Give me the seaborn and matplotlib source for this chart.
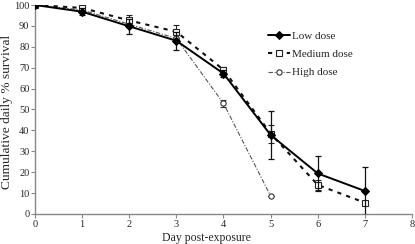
import matplotlib
matplotlib.use("Agg")
import matplotlib.pyplot as plt
import seaborn as sns
import pandas as pd
import numpy as np

days = [0, 1, 2, 3, 4, 5, 6, 7]
low = [100, 96.8, 89.8, 82.9, 67.2, 37.8, 19.4, 11.0]
low_err = [0, 1.6, 3.5, 4.4, 1.8, 11.5, 8.3, 11.5]
medium = [100, 98.6, 92.6, 87.2, 69.0, 38.5, 13.9, 5.4]
medium_err = [0, 1.2, 2.5, 3.3, 1.2, 4.3, 2.2, 0]
high_days = [0, 1, 2, 3, 4, 5]
high = [100, 97.6, 90.8, 84.0, 52.9, 8.6]
high_err = [0, 0, 0, 0, 1.6, 0]
series_names = ["Low dose", "Medium dose", "High dose"]

sns.set_theme(style="white")
plt.rcParams["font.family"] = ["Liberation Serif", "DejaVu Serif"]

fig = plt.figure(figsize=(4.15, 2.44), dpi=100)
ax = fig.add_axes([0.0843, 0.123, 0.9085, 0.8565])

df_high = pd.DataFrame({"day": high_days, "val": high})
df_med = pd.DataFrame({"day": days, "val": medium})
df_low = pd.DataFrame({"day": days, "val": low})

# High dose
ax.errorbar(high_days, high, yerr=high_err, fmt="none", ecolor="#333333",
            elinewidth=0.8, capsize=2, capthick=0.8, zorder=2)
sns.lineplot(data=df_high, x="day", y="val", ax=ax, color="#555555",
             linewidth=0.8, marker="o", markersize=3.8, markerfacecolor="white",
             markeredgecolor="#333333", markeredgewidth=0.8, label=series_names[2],
             zorder=3)
ax.lines[-1].set_dashes([4, 1.5, 1, 1.5])

# Medium dose
ax.errorbar(days, medium, yerr=medium_err, fmt="none", ecolor="#222222",
            elinewidth=0.8, capsize=2, capthick=0.8, zorder=4)
sns.lineplot(data=df_med, x="day", y="val", ax=ax, color="#111111",
             linewidth=1.5, marker="s", markersize=4.8, markerfacecolor="white",
             markeredgecolor="#222222", markeredgewidth=0.8, label=series_names[1],
             zorder=5)
ax.lines[-1].set_dashes([2, 2.5])

# Low dose
ax.errorbar(days, low, yerr=low_err, fmt="none", ecolor="#111111",
            elinewidth=0.9, capsize=2, capthick=0.9, zorder=6)
sns.lineplot(data=df_low, x="day", y="val", ax=ax, color="black",
             linewidth=1.4, marker="D", markersize=4.3, markerfacecolor="black",
             markeredgecolor="black", label=series_names[0], zorder=7)

ax.set_xlim(0, 8)
ax.set_ylim(0, 100)
ax.set_xticks(range(0, 9))
ax.set_yticks(range(0, 101, 10))
ax.set_xlabel("Day post-exposure", fontsize=8.5)
ax.set_ylabel("Cumulative daily % survival", fontsize=9.6)
ax.xaxis.set_label_coords(0.455, -0.085)
ax.yaxis.set_label_coords(-0.058, 0.49)
ax.tick_params(axis="both", labelsize=7.5, length=3, width=0.8, color="#888888",
               direction="out", pad=1, bottom=True, left=True)
for s in ["top", "right"]:
    ax.spines[s].set_visible(False)
for s in ["left", "bottom"]:
    ax.spines[s].set_color("#888888")
    ax.spines[s].set_linewidth(1.0)

handles, labels = ax.get_legend_handles_labels()
order = [labels.index(n) for n in series_names]
ax.legend([handles[i] for i in order], [labels[i] for i in order],
          loc="upper left", bbox_to_anchor=(0.605, 0.895), frameon=False,
          fontsize=8, handlelength=2.0, handletextpad=0.2, labelspacing=0.75,
          borderaxespad=0)

fig.savefig("out.png", dpi=100)
